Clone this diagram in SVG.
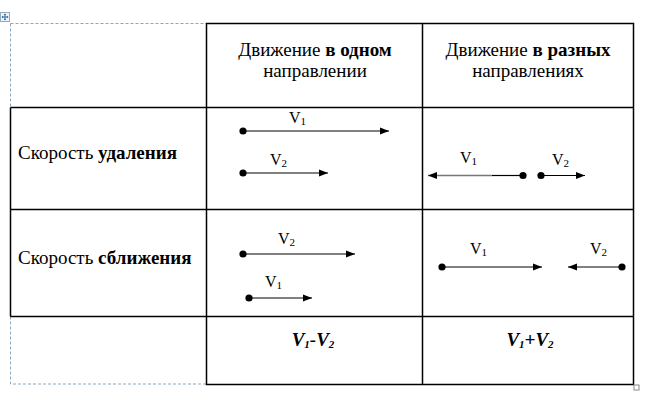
<svg xmlns="http://www.w3.org/2000/svg" width="653" height="406" viewBox="0 0 653 406">
<defs>
<marker id="ah" markerUnits="userSpaceOnUse" markerWidth="10" markerHeight="8" refX="9" refY="4" orient="auto">
<path d="M0,0.5 L9,4 L0,7.5 Z" fill="#000"/>
</marker>
<style>
.grid{stroke:#000;stroke-width:1.5;fill:none}
.dash{stroke:#8fa7bb;stroke-width:1;stroke-dasharray:3 2;fill:none}
.t{font-family:"Liberation Serif","Times New Roman",serif;font-size:19px;fill:#000}
.b{font-weight:bold}
.lbl{font-family:"Liberation Serif","Times New Roman",serif;font-size:16px;fill:#000}
.sub{font-size:11px}
.res{font-family:"Liberation Serif","Times New Roman",serif;font-size:19px;font-weight:bold;font-style:italic;fill:#000}
.vec{stroke:#000;stroke-width:1.2;marker-end:url(#ah)}
.dot{fill:#000}
</style>
</defs>
<rect width="653" height="406" fill="#fff"/>
<g id="frame">
<path class="dash" d="M10.5,23.5 H206 M10.5,23.5 V107.5 M10.5,316.5 V384 H206"/>
<path class="grid" d="M206.5,23.5 H633.5 V384.5 H206.5 Z M206.5,23.5 V384.5 M422.5,23.5 V384.5 M10.5,107.5 H633.5 M10.5,209.5 H633.5 M10.5,316.5 H633.5 M10.5,107.5 V316.5"/>
<rect x="634" y="385" width="5" height="5" fill="#fff" stroke="#888" stroke-width="1"/>
<g id="move-icon">
<rect x="0.5" y="12.5" width="9" height="9" fill="#eef4fa" stroke="#9ab" stroke-width="1"/>
<path d="M5,14 V20 M2,17 H8" stroke="#2a6aa8" stroke-width="1"/>
<path d="M5,13.5 L3.8,15 H6.2 Z M5,20.5 L3.8,19 H6.2 Z M1.5,17 L3,15.8 V18.2 Z M8.5,17 L7,15.8 V18.2 Z" fill="#2a6aa8"/>
</g>
</g>
<g id="header-same">
<text class="t" x="315" y="56" text-anchor="middle">Движение <tspan class="b">в одном</tspan></text>
<text class="t" x="315" y="77" text-anchor="middle">направлении</text>
</g>
<g id="header-diff">
<text class="t" x="528" y="56" text-anchor="middle">Движение <tspan class="b">в разных</tspan></text>
<text class="t" x="528" y="77" text-anchor="middle">направлениях</text>
</g>
<g id="row-away">
<text class="t" x="18" y="159">Скорость <tspan class="b">удаления</tspan></text>
</g>
<g id="row-closer">
<text class="t" x="18" y="264">Скорость <tspan class="b">сближения</tspan></text>
</g>
<g id="connectors">
<line class="vec" x1="243" y1="131" x2="389" y2="131"/>
<line class="vec" x1="243" y1="173" x2="328" y2="173"/>
<line x1="428" y1="175.5" x2="492" y2="175.5" stroke="#777" stroke-width="1.4" marker-end="url(#ah)" transform="rotate(180 460 175.5)"/>
<line x1="492" y1="175.5" x2="523" y2="175.5" stroke="#000" stroke-width="1.2"/>
<line class="vec" x1="541" y1="175.5" x2="585" y2="175.5"/>
<line class="vec" x1="243" y1="254" x2="355" y2="254"/>
<line class="vec" x1="249" y1="298" x2="312" y2="298"/>
<line class="vec" x1="442" y1="267" x2="542" y2="267"/>
<line class="vec" x1="622" y1="267" x2="568" y2="267"/>
</g>
<g id="points">
<circle class="dot" cx="243" cy="131" r="3.6"/>
<circle class="dot" cx="243" cy="173" r="3.6"/>
<circle class="dot" cx="523" cy="175.5" r="3.6"/>
<circle class="dot" cx="541" cy="175.5" r="3.6"/>
<circle class="dot" cx="243" cy="254" r="3.6"/>
<circle class="dot" cx="249" cy="298" r="3.6"/>
<circle class="dot" cx="442" cy="267" r="3.6"/>
<circle class="dot" cx="622" cy="267" r="3.6"/>
</g>
<g id="labels">
<text class="lbl" x="289" y="123">V<tspan class="sub" dy="2">1</tspan></text>
<text class="lbl" x="270" y="165">V<tspan class="sub" dy="2">2</tspan></text>
<text class="lbl" x="460" y="163">V<tspan class="sub" dy="2">1</tspan></text>
<text class="lbl" x="552" y="165">V<tspan class="sub" dy="2">2</tspan></text>
<text class="lbl" x="278" y="244">V<tspan class="sub" dy="2">2</tspan></text>
<text class="lbl" x="265" y="287">V<tspan class="sub" dy="2">1</tspan></text>
<text class="lbl" x="470" y="254">V<tspan class="sub" dy="2">1</tspan></text>
<text class="lbl" x="590" y="254">V<tspan class="sub" dy="2">2</tspan></text>
</g>
<g id="results">
<text class="res" x="313" y="346" text-anchor="middle">V<tspan class="sub" dy="2">1</tspan><tspan dy="-2">-V</tspan><tspan class="sub" dy="2">2</tspan></text>
<text class="res" x="530" y="346" text-anchor="middle">V<tspan class="sub" dy="2">1</tspan><tspan dy="-2">+V</tspan><tspan class="sub" dy="2">2</tspan></text>
</g>
</svg>
